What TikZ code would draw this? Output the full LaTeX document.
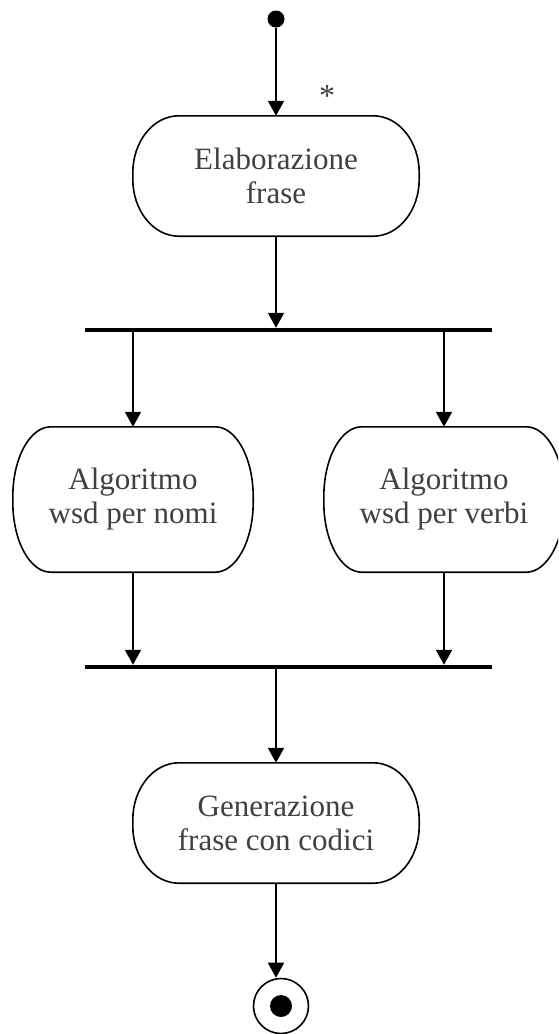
\documentclass[tikz,border=0pt]{standalone}
\usepackage{fontspec}
\setmainfont{Liberation Serif}
\usetikzlibrary{arrows.meta,calc}
\definecolor{txt}{HTML}{404040}
\newcommand\capsuleoutline[3]{%
  \draw[boxline] ([xshift=#2]#1.north west) -- ([xshift=-#2]#1.north east)
    arc[start angle=90,end angle=0,x radius=#2,y radius=#3]
    -- ([yshift=#3]#1.south east)
    arc[start angle=0,end angle=-90,x radius=#2,y radius=#3]
    -- ([xshift=#2]#1.south west)
    arc[start angle=270,end angle=180,x radius=#2,y radius=#3]
    -- ([yshift=-#3]#1.north west)
    arc[start angle=180,end angle=90,x radius=#2,y radius=#3]
    -- cycle;}
\tikzset{
  boxline/.style={line width=1.6pt},
  actbox/.style={rectangle,draw=none,inner sep=0pt,align=center,text=txt,
    font=\fontsize{31}{34}\selectfont},
  bigbox/.style={actbox,minimum width=286pt,minimum height=120pt},
  sidebox/.style={actbox,minimum width=240pt,minimum height=145pt},
  syncbar/.style={rectangle,fill=black,inner sep=0pt,minimum width=407pt,minimum height=4pt},
  flow/.style={line width=2pt,-{Triangle[width=16pt,length=15pt]}},
}
\begin{document}
\begin{tikzpicture}[x=1pt,y=-1pt]
\clip (0,0) rectangle (558,1034);
\fill[white] (0,0) rectangle (558,1034);
% nodes
\node[circle,fill=black,minimum size=17pt,inner sep=0pt] (start) at (276,19) {};
\node[text=txt,font=\fontsize{32}{32}\selectfont,inner sep=0pt] (star) at (327,96) {*};
\node[bigbox] (box1) at (276,176) {Elaborazione\\frase};
\node[syncbar] (bar1) at (288.5,330) {};
\node[sidebox] (boxL) at (133,499.5) {Algoritmo\\wsd per nomi};
\node[sidebox] (boxR) at (444,499.5) {Algoritmo\\wsd per verbi};
\node[syncbar] (bar2) at (288.5,667) {};
\node[bigbox] (box3) at (276,823) {Generazione\\frase con codici};
\node[circle,draw=black,line width=1.6pt,minimum size=55pt,inner sep=0pt] (end) at (281,1006) {};
\node[circle,fill=black,minimum size=22pt,inner sep=0pt] (enddot) at (end.center) {};
% outlines
\capsuleoutline{box1}{46pt}{57pt}
\capsuleoutline{box3}{46pt}{57pt}
\capsuleoutline{boxL}{38pt}{70pt}
\capsuleoutline{boxR}{38pt}{70pt}
% connectors
\draw[flow] (start) -- (box1.north);
\draw[flow] (box1.south) -- (box1.south |- bar1.north);
\draw[flow] (bar1.south -| boxL.north) -- (boxL.north);
\draw[flow] (bar1.south -| boxR.north) -- (boxR.north);
\draw[flow] (boxL.south) -- (boxL.south |- bar2.north);
\draw[flow] (boxR.south) -- (boxR.south |- bar2.north);
\draw[flow] (bar2.south -| box3.north) -- (box3.north);
\coordinate (endtop) at (box3.south |- end.north);
\draw[flow] (box3.south) -- (endtop);
\end{tikzpicture}
\end{document}
